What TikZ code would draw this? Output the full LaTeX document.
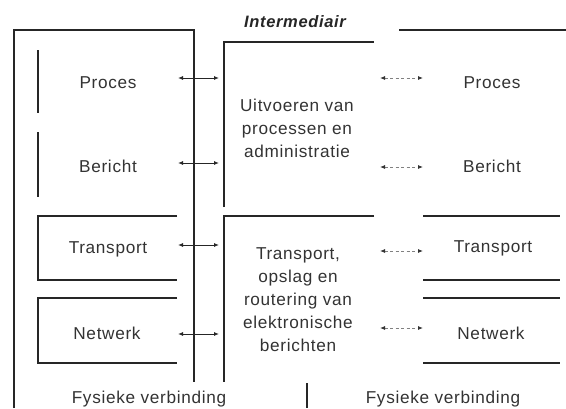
\documentclass[tikz,border=0pt]{standalone}
\usepackage{fontspec}
\setmainfont{Liberation Sans}
\newfontfamily\spacedsans[LetterSpace=4]{Liberation Sans}
\usetikzlibrary{arrows.meta}
\begin{document}
\begin{tikzpicture}[x=1pt,y=-1pt,
  frame/.style={line width=1.5pt, draw=black!85},
  lbl/.style={font=\spacedsans\fontsize{17.2}{23}\selectfont, text=black!80, inner sep=0pt, align=center},
  title/.style={font=\spacedsans\fontsize{16.5}{20}\selectfont\bfseries\itshape, text=black!85, inner sep=0pt},
  link/.style={line width=0.9pt, draw=black!85,
    {Latex[length=5pt,width=4pt]}-{Latex[length=5pt,width=4pt]}},
  peer/.style={line width=0.8pt, draw=black!50, dash pattern=on 3pt off 2.5pt,
    {Latex[length=5pt,width=4pt,color=black!80]}-{Latex[length=5pt,width=4pt,color=black!80]}}]
\useasboundingbox (0,0) rectangle (566,408);
\fill[white] (0,0) rectangle (566,408);

% left end system
\draw[frame] (14,408) -- (14,30) -- (194,30) -- (194,382);
\draw[frame] (38,50) -- (38,113);
\draw[frame] (38,132) -- (38,197);
\draw[frame] (177,216) -- (38,216) -- (38,280) -- (177,280);
\draw[frame] (177,298) -- (38,298) -- (38,363) -- (177,363);

% intermediary
\draw[frame] (224,207) -- (224,42) -- (374,42);
\draw[frame] (374,216) -- (224,216) -- (224,382);

% right end system
\draw[frame] (399,30) -- (566,30);
\draw[frame] (423,216) -- (560,216);
\draw[frame] (423,280) -- (560,280);
\draw[frame] (423,298) -- (560,298);
\draw[frame] (423,363) -- (560,363);
\draw[frame] (307,383) -- (307,408);

% labels
\node[title] (tim) at (295,22) {Intermediair};

\node[lbl] (lproc) at (108,83) {Proces};
\node[lbl] (lber)  at (108,166) {Bericht};
\node[lbl] (ltra)  at (108,249) {Transport};
\node[lbl] (lnet)  at (107,333) {Netwerk};
\node[lbl] (lfys)  at (149,399) {Fysieke verbinding};

\node[lbl] (mup) at (297,128) {Uitvoeren van\\processen en\\administratie};
\node[lbl] (mlo) at (298,300) {Transport,\\opslag en\\routering van\\elektronische\\berichten};

\node[lbl] (rproc) at (492,83) {Proces};
\node[lbl] (rber)  at (492,166) {Bericht};
\node[lbl] (rtra)  at (493,248) {Transport};
\node[lbl] (rnet)  at (491,333) {Netwerk};
\node[lbl] (rfys)  at (443,399) {Fysieke verbinding};

% connector end points
\coordinate (la1) at (178,78);  \coordinate (lb1) at (219,78);
\coordinate (la2) at (178,163); \coordinate (lb2) at (219,163);
\coordinate (la3) at (178,245); \coordinate (lb3) at (219,245);
\coordinate (la4) at (178,334); \coordinate (lb4) at (219,334);
\coordinate (ra1) at (380,78);  \coordinate (rb1) at (423,78);
\coordinate (ra2) at (380,167); \coordinate (rb2) at (423,167);
\coordinate (ra3) at (380,251); \coordinate (rb3) at (423,251);
\coordinate (ra4) at (380,328); \coordinate (rb4) at (423,328);

\foreach \i in {1,2,3,4} {
  \draw[link] (la\i) -- (lb\i);
  \draw[peer] (ra\i) -- (rb\i);
}
\end{tikzpicture}
\end{document}
